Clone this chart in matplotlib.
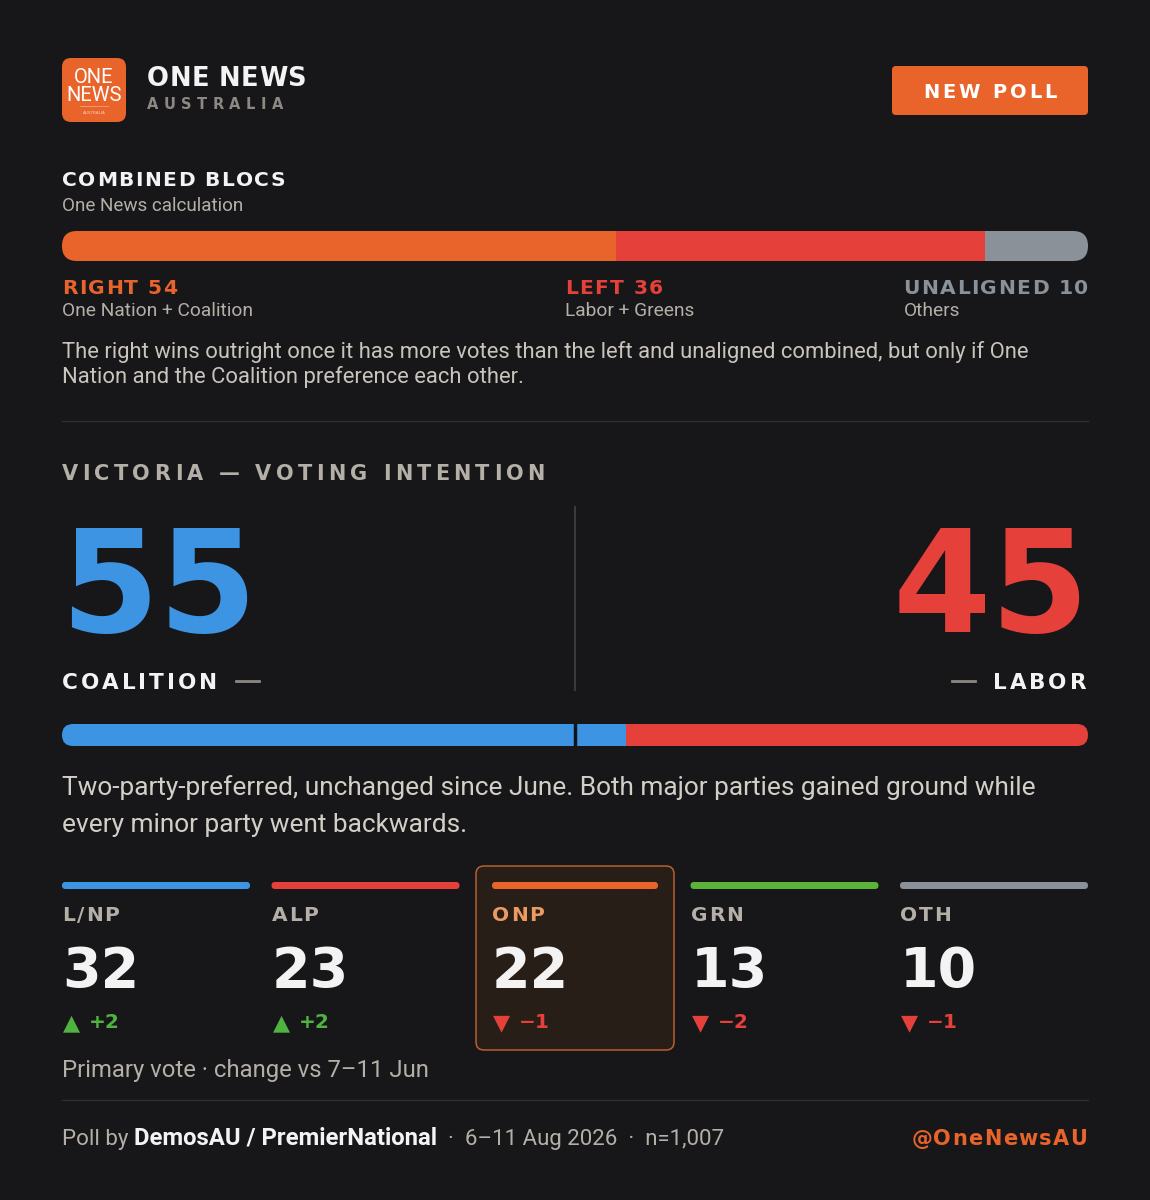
import matplotlib
matplotlib.use("Agg")
import matplotlib.pyplot as plt
from matplotlib.patches import FancyBboxPatch

# ---- data ----
bloc_names = ["RIGHT", "LEFT", "UNALIGNED"]
bloc_values = [54, 36, 10]
bloc_subs = ["One Nation + Coalition", "Labor + Greens", "Others"]
bloc_colors = ["#e8642b", "#e5403a", "#8b9199"]

tpp_names = ["COALITION", "LABOR"]
tpp_values = [55, 45]
tpp_colors = ["#3d94e3", "#e5403a"]

parties = ["L/NP", "ALP", "ONP", "GRN", "OTH"]
primary = [32, 23, 22, 13, 10]
change = [2, 2, -1, -2, -1]
party_colors = ["#3d94e3", "#e5403a", "#e8642b", "#5bb33a", "#8b9199"]
highlight = "ONP"

BG = "#17171a"
WHITE = "#f3f3f3"
GREY = "#b4afa7"
ORANGE = "#e8642b"
UP = "#4fb33f"
DOWN = "#e5403a"
HEAD = "DejaVu Sans"
BODY = "Roboto"

W, H = 1150, 1200
fig = plt.figure(figsize=(W / 100, H / 100), dpi=100, facecolor=BG)
ax = fig.add_axes([0, 0, 1, 1])
ax.set_xlim(0, W)
ax.set_ylim(H, 0)
ax.axis("off")
ax.set_facecolor(BG)
renderer = fig.canvas.get_renderer()


def _w(s, **kw):
    t = ax.text(0, 0, s, **kw)
    w = t.get_window_extent(renderer).width
    t.remove()
    return w


def adv(s, **kw):
    # advance width of a string, incl. side bearings
    return _w("|" + s + "|", **kw) - _w("||", **kw)


def tracked(x, y, s, size, color, weight="bold", family=HEAD, track=0.0, ha="left"):
    kw = dict(fontsize=size, fontweight=weight, family=family)
    widths = [adv(c, **kw) for c in s]
    total = sum(widths) + track * (len(s) - 1)
    if ha == "right":
        x -= total
    elif ha == "center":
        x -= total / 2
    x_start = x
    for c, w in zip(s, widths):
        if c != " ":
            ax.text(x, y, c, color=color, va="baseline", ha="left", **kw)
        x += w + track
    return x_start, x


def runs(x, y, parts, ha="left"):
    # parts: list of (text, size, color, weight, family)
    widths = [adv(p[0], fontsize=p[1], fontweight=p[3], family=p[4]) for p in parts]
    if ha == "right":
        x -= sum(widths)
    for (s, size, color, weight, family), w in zip(parts, widths):
        ax.text(x, y, s, fontsize=size, color=color, fontweight=weight,
                family=family, va="baseline", ha="left")
        x += w
    return x


def rbox(x, y, w, h, r, fc, ec="none", lw=0, z=1):
    p = FancyBboxPatch((x, y), w, h, boxstyle=f"round,pad=0,rounding_size={r}",
                       fc=fc, ec=ec, lw=lw, zorder=z, transform=ax.transData)
    ax.add_patch(p)
    return p


def bar_axes(x, y, w, h):
    bax = fig.add_axes([x / W, 1 - (y + h) / H, w / W, h / H])
    bax.set_xlim(0, 100)
    bax.set_ylim(0, 1)
    bax.axis("off")
    bax.patch.set_alpha(0)
    clip = FancyBboxPatch((x, y), w, h, boxstyle=f"round,pad=0,rounding_size={h / 2}",
                          transform=ax.transData, fc="none", ec="none")
    return bax, clip


# ---- header ----
rbox(62, 58, 64, 64, 9, ORANGE)
ax.text(94, 83, "ONE", fontsize=14.5, color="white", family=BODY, ha="center", va="baseline")
ax.text(94, 101, "NEWS", fontsize=14.5, color="white", family=BODY, ha="center", va="baseline")
ax.plot([80, 108], [106, 106], color="#f5b08a", lw=0.5)
ax.text(94, 114, "AUSTRALIA", fontsize=3, color="#f8d0b8", family=HEAD, ha="center", va="baseline")

tracked(147, 86, "ONE NEWS", 18.5, WHITE, track=0.4)
tracked(147, 109, "AUSTRALIA", 10.5, "#8d8881", track=5.4)

rbox(892, 66, 196, 49, 4, ORANGE)
tracked(990, 98, "NEW POLL", 14, "white", track=3.0, ha="center")

# ---- combined blocs ----
tracked(62, 186, "COMBINED BLOCS", 14.5, WHITE, track=1.5)
ax.text(62, 211, "One News calculation", fontsize=13.6, color=GREY, family=BODY, va="baseline")

bax, clip = bar_axes(62, 231, 1026, 30)
lefts = [sum(bloc_values[:i]) for i in range(len(bloc_values))]
bars = bax.barh(0.5, bloc_values, left=lefts, height=1, color=bloc_colors)
for b in bars:
    b.set_clip_path(clip)

label_x = [62, 565, 1088]
label_ha = ["left", "left", "right"]
for name, v, sub, col, lx, lha in zip(bloc_names, bloc_values, bloc_subs, bloc_colors, label_x, label_ha):
    x_start, _ = tracked(lx, 294, f"{name} {v}", 14.6, col, track=1.4, ha=lha)
    ax.text(x_start, 316, sub, fontsize=13.8, color=GREY, family=BODY, va="baseline")

ax.text(62, 358, "The right wins outright once it has more votes than the left and unaligned combined, but only if One",
        fontsize=15.8, color="#c9c4bc", family=BODY, va="baseline")
ax.text(62, 383, "Nation and the Coalition preference each other.",
        fontsize=15.8, color="#c9c4bc", family=BODY, va="baseline")

ax.plot([62, 1088], [421, 421], color="#2f2f33", lw=1)

# ---- two-party preferred ----
tracked(62, 480, "VICTORIA — VOTING INTENTION", 15, GREY, track=4.3)

ax.text(60, 632, str(tpp_values[0]), fontsize=102, fontweight="bold", family=HEAD,
        color=tpp_colors[0], va="baseline", ha="left")
ax.text(1090, 632, str(tpp_values[1]), fontsize=102, fontweight="bold", family=HEAD,
        color=tpp_colors[1], va="baseline", ha="right")
ax.plot([575, 575], [507, 690], color="#3a3a3e", lw=1.5)

_, end = tracked(62, 689, tpp_names[0], 15.5, WHITE, track=2.9)
ax.plot([end + 16, end + 39], [681, 681], color="#8d8881", lw=2)
start, _ = tracked(1086, 689, tpp_names[1], 15.5, WHITE, track=2.9, ha="right")
ax.plot([start - 41, start - 18], [681, 681], color="#8d8881", lw=2)

bax2, clip2 = bar_axes(62, 724, 1026, 22)
bars2 = bax2.barh(0.5, tpp_values, left=[0, tpp_values[0]], height=1, color=tpp_colors)
for b in bars2:
    b.set_clip_path(clip2)
bax2.axvline(50, color="#10121a", lw=2.5)

ax.text(62, 795, "Two-party-preferred, unchanged since June. Both major parties gained ground while",
        fontsize=18.9, color="#d3cfc7", family=BODY, va="baseline")
ax.text(62, 832, "every minor party went backwards.",
        fontsize=18.9, color="#d3cfc7", family=BODY, va="baseline")

# ---- primary vote columns ----
col_w, gap = 188, 21.5
for i, (p, v, d, col) in enumerate(zip(parties, primary, change, party_colors)):
    x0 = 62 + i * (col_w + gap)
    inset = 0
    name_col = GREY
    if p == highlight:
        rbox(x0 - 5, 866, col_w + 10, 184, 8, "#271e18", ec="#b8602e", lw=1.1, z=0.5)
        inset = 11
        name_col = "#eb9a62"
    rbox(x0 + inset, 882, col_w - 2 * inset, 7, 3.5, col, z=2)
    tracked(x0 + inset, 921, p, 14.5, name_col, track=1.8)
    ax.text(x0 + inset, 987, str(v), fontsize=40, fontweight="bold", family=HEAD,
            color=WHITE, va="baseline")
    ccol = UP if d > 0 else DOWN
    tri = "▲" if d > 0 else "▼"
    sign = "+" if d > 0 else "\u2212"
    ax.text(x0 + inset + 1, 1029, tri, fontsize=16, family=HEAD, color=ccol, va="baseline")
    ax.text(x0 + inset + 27, 1028, f"{sign}{abs(d)}", fontsize=14.5, fontweight="bold",
            family=HEAD, color=ccol, va="baseline")

ax.text(62, 1077, "Primary vote \u00b7 change vs 7\u201311 Jun", fontsize=17.2, color=GREY,
        family=BODY, va="baseline")

ax.plot([62, 1088], [1100, 1100], color="#2f2f33", lw=1)

# ---- footer ----
runs(62, 1145, [
    ("Poll by ", 16, GREY, "normal", BODY),
    ("DemosAU / PremierNational", 17.2, WHITE, "bold", BODY),
    ("  \u00b7  6\u201311 Aug 2026  \u00b7  n=1,007", 16, GREY, "normal", BODY),
])
tracked(1087, 1145, "@OneNewsAU", 15, ORANGE, track=1.3, ha="right")

fig.savefig("out.png", dpi=100, facecolor=BG)
